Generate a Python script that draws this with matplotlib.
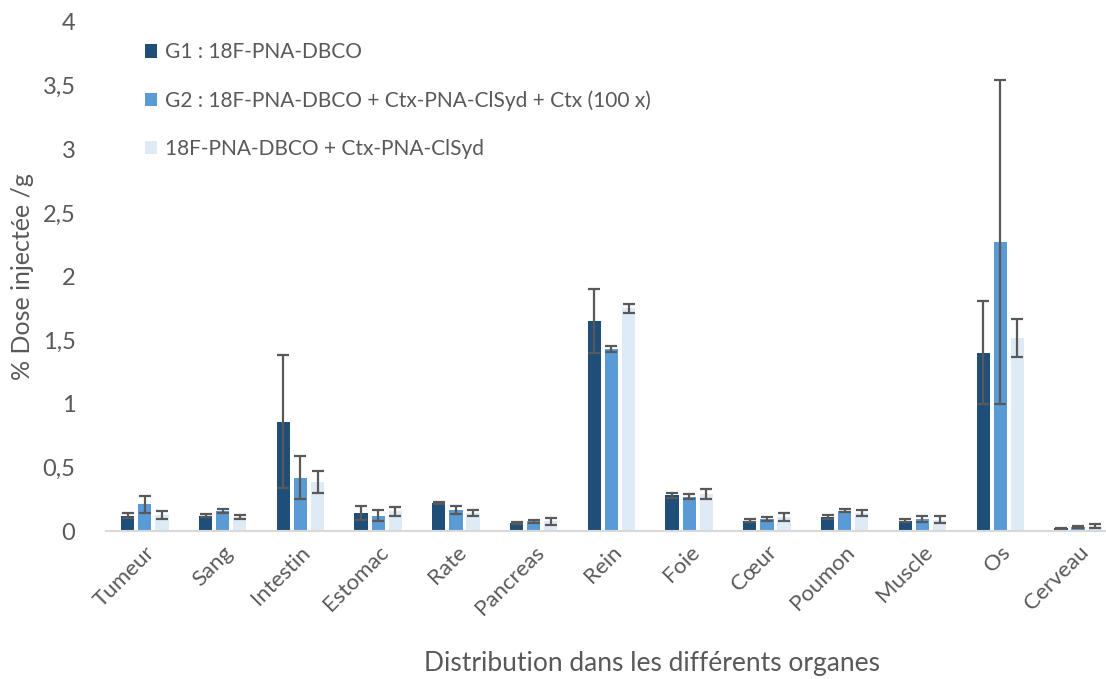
import matplotlib.pyplot as plt
import numpy as np

plt.rcParams['font.family'] = ['Lato', 'DejaVu Sans']

organes = ['Tumeur', 'Sang', 'Intestin', 'Estomac', 'Rate', 'Pancreas', 'Rein',
           'Foie', 'Cœur', 'Poumon', 'Muscle', 'Os', 'Cerveau']

g1 = [0.12, 0.12, 0.86, 0.14, 0.22, 0.06, 1.65, 0.28, 0.08, 0.11, 0.08, 1.40, 0.02]
g1_err = [0.02, 0.01, 0.52, 0.055, 0.01, 0.008, 0.25, 0.02, 0.013, 0.017, 0.013, 0.405, 0.005]

g2 = [0.21, 0.16, 0.42, 0.12, 0.165, 0.075, 1.43, 0.27, 0.094, 0.16, 0.094, 2.27, 0.03]
g2_err = [0.065, 0.015, 0.17, 0.045, 0.028, 0.01, 0.022, 0.02, 0.016, 0.01, 0.026, 1.275, 0.008]

g3 = [0.125, 0.11, 0.385, 0.155, 0.14, 0.075, 1.75, 0.29, 0.11, 0.14, 0.09, 1.515, 0.042]
g3_err = [0.03, 0.018, 0.09, 0.035, 0.024, 0.025, 0.037, 0.04, 0.033, 0.025, 0.027, 0.15, 0.015]

labels = ['G1 : 18F-PNA-DBCO',
          'G2 : 18F-PNA-DBCO + Ctx-PNA-ClSyd + Ctx (100 x)',
          '18F-PNA-DBCO + Ctx-PNA-ClSyd']
couleurs = ['#1F4E79', '#5B9BD5', '#DEEBF7']
gris = '#595959'

fig = plt.figure(figsize=(11.06, 6.79), dpi=100)
ax = fig.add_axes([106 / 1106, 1 - 531 / 679, 1 - 106 / 1106, 509 / 679])

x = np.arange(len(organes))
pas = 0.22
for i, (vals, errs) in enumerate([(g1, g1_err), (g2, g2_err), (g3, g3_err)]):
    ax.bar(x + (i - 1) * pas, vals, width=0.17, color=couleurs[i], label=labels[i],
           yerr=errs, capsize=4.5,
           error_kw=dict(ecolor=gris, elinewidth=1.6, capthick=1.6), zorder=2)

ax.set_xlim(-0.5, 12 + 28 / 77.8)
ax.set_ylim(0, 4)
ax.set_yticks(np.arange(0, 4.01, 0.5))
ax.set_yticklabels(['0', '0,5', '1', '1,5', '2', '2,5', '3', '3,5', '4'])
ax.set_xticks(x)
ax.set_xticklabels(organes, rotation=45, ha='right', rotation_mode='anchor')

for s in ['top', 'right', 'left']:
    ax.spines[s].set_visible(False)
ax.spines['bottom'].set_color('#D9D9D9')
ax.spines['bottom'].set_linewidth(1.5)
ax.tick_params(axis='both', length=0, colors=gris)
ax.tick_params(axis='y', labelsize=17, pad=22)
ax.tick_params(axis='x', labelsize=16, pad=8)

ax.set_ylabel('% Dose injectée /g', fontsize=18, color=gris, labelpad=6)
ax.set_xlabel('Distribution dans les différents organes', fontsize=19, color=gris)
ax.xaxis.set_label_coords(0.546, -0.236)

ax.legend(loc='upper left', bbox_to_anchor=(0.02, 0.997), frameon=False, fontsize=15,
          handlelength=0.6, handleheight=0.6, handletextpad=0.35, labelspacing=1.35,
          labelcolor=gris)

fig.savefig('out.png', dpi=100)
